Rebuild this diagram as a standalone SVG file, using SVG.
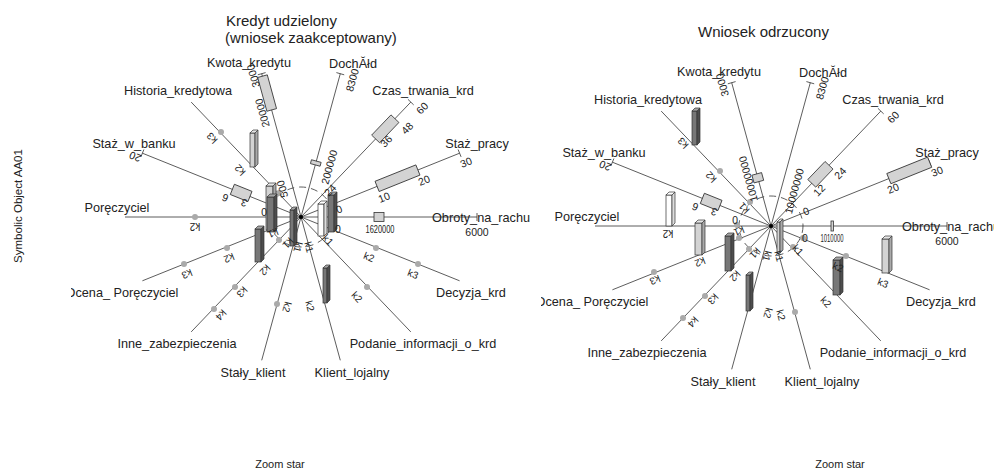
<svg xmlns="http://www.w3.org/2000/svg" xmlns:xlink="http://www.w3.org/1999/xlink" width="994" height="472" viewBox="0 0 994 472">
<style>
text{font-family:"Liberation Sans",Arial,sans-serif;fill:#222}
.lab{font-size:12.7px;text-anchor:middle}
.ttl{font-size:15px}
.num{font-size:10.5px;text-anchor:middle;dominant-baseline:central}
.k{font-size:10px;text-anchor:middle;dominant-baseline:central}
.ax{stroke:#333;stroke-width:0.8;fill:none}
.dash{stroke:#333;stroke-width:0.8;fill:none;stroke-dasharray:7 5}
.iv{fill:#d3d3d3;stroke:#333;stroke-width:0.8}
.dot{fill:#aaa}
.bar rect,.bar polygon{stroke:#333;stroke-width:0.7}
.dk rect{fill:#777}.dk .s{fill:#4d4d4d}.dk .t{fill:#a5a5a5}
.lt rect{fill:#d3d3d3}.lt .s{fill:#aaa}.lt .t{fill:#e6e6e6}
.wh rect{fill:#fff}.wh .s{fill:#ddd}.wh .t{fill:#fff}
</style>
<defs>
<clipPath id="cl"><rect x="71" y="0" width="459" height="472"/></clipPath>
<clipPath id="cr"><rect x="541" y="0" width="453" height="472"/></clipPath>
<g id="spokes">
<path class="ax" d="M0,0L176,0M0,0L158.6,-63.8M0,0L109.8,-114.9M0,0L39.3,-143.3M0,0L-39.3,-143.3M0,0L-109.8,-114.9M0,0L-158.6,-63.8M0,0L-176,0M0,0L-158.6,63.8M0,0L-109.8,114.9M0,0L-39.3,143.3M0,0L39.3,143.3M0,0L109.8,114.9M0,0L158.6,63.8"/>
<path class="ax" d="M176,-4L176,4M160.1,-60.1L157.1,-67.5M112.7,-112.1L106.9,-117.7M43.2,-142.2L35.4,-144.4M-35.4,-144.4L-43.2,-142.2M-157.1,-67.5L-160.1,-60.1"/>
<ellipse class="dash" cx="0" cy="0" rx="32" ry="30"/>
<circle cx="0" cy="0" r="2" fill="#000"/>
</g>
</defs>

<text x="0" y="0" transform="translate(22,206) rotate(-90)" style="font-size:11.5px;text-anchor:middle">Symbolic Object AA01</text>
<text x="280" y="468" style="font-size:11px;text-anchor:middle">Zoom star</text>
<text x="840" y="468" style="font-size:11px;text-anchor:middle">Zoom star</text>

<g id="star-left" clip-path="url(#cl)">
<text class="ttl" x="226" y="26">Kredyt udzielony</text>
<text class="ttl" x="225" y="43">(wniosek zaakceptowany)</text>
<use xlink:href="#spokes" href="#spokes" transform="translate(301,217)"/>
<g transform="translate(301,217)">
<rect class="iv" x="73" y="-4.5" width="10" height="9"/>
<rect class="iv" transform="rotate(-21.9)" x="82" y="-5.5" width="44" height="11"/>
<rect class="iv" transform="rotate(-46.3)" x="108" y="-5.5" width="28" height="11"/>
<rect class="iv" transform="rotate(-74.7)" x="54" y="-5" width="4" height="10"/>
<rect class="iv" transform="rotate(-105.3)" x="111" y="-5" width="35" height="10"/>
<rect class="iv" transform="rotate(-158.1)" x="55" y="-5.5" width="19" height="11"/>
</g>
<g class="dots">
<circle class="dot" cx="221" cy="132" r="3"/><circle class="dot" cx="279" cy="193" r="3"/>
<circle class="dot" cx="195" cy="217" r="3"/><circle class="dot" cx="227" cy="248" r="3"/>
<circle class="dot" cx="184" cy="264" r="3"/><circle class="dot" cx="279" cy="240" r="3"/>
<circle class="dot" cx="235" cy="287" r="3"/><circle class="dot" cx="214" cy="309" r="3"/>
<circle class="dot" cx="277" cy="304" r="3"/><circle class="dot" cx="376" cy="248" r="3"/>
<circle class="dot" cx="418" cy="264" r="3"/><circle class="dot" cx="367" cy="287" r="3"/>
</g>
<g class="bar lt"><rect x="250" y="133" width="5" height="34"/><polygon class="s" points="255,133 258,130 258,164 255,167"/><polygon class="t" points="250,133 253,130 258,130 255,133"/></g>
<g class="bar lt"><rect x="266" y="186" width="7" height="44"/><polygon class="s" points="273,186 276,183 276,227 273,230"/><polygon class="t" points="266,186 269,183 276,183 273,186"/></g>
<g class="bar dk"><rect x="267" y="197" width="7" height="35"/><polygon class="s" points="274,197 277,194 277,229 274,232"/><polygon class="t" points="267,197 270,194 277,194 274,197"/></g>
<g class="bar dk"><rect x="255" y="229" width="6" height="33"/><polygon class="s" points="261,229 264,226 264,259 261,262"/><polygon class="t" points="255,229 258,226 264,226 261,229"/></g>
<g class="bar dk"><rect x="290" y="210" width="4" height="36"/><polygon class="s" points="294,210 297,207 297,243 294,246"/><polygon class="t" points="290,210 293,207 297,207 294,210"/></g>
<g class="bar wh"><rect x="318" y="204" width="6" height="32"/><polygon class="s" points="324,204 327,201 327,233 324,236"/><polygon class="t" points="318,204 321,201 327,201 324,204"/></g>
<g class="bar dk"><rect x="328" y="195" width="6" height="37"/><polygon class="s" points="334,195 337,192 337,229 334,232"/><polygon class="t" points="328,195 331,192 337,192 334,195"/></g>
<g class="bar dk"><rect x="323" y="268" width="4" height="35"/><polygon class="s" points="327,268 330,265 330,300 327,303"/><polygon class="t" points="323,268 326,265 330,265 327,268"/></g>

<g class="nums">
<text class="num" transform="translate(253,76) rotate(-105.3)">3000</text>
<text class="num" transform="translate(262,113) rotate(-105.3)">20000</text>
<text class="num" transform="translate(282,189) rotate(-105.3)">500</text>
<text class="num" transform="translate(352,80) rotate(-74.7)">8300</text>
<text class="num" transform="translate(329,167) rotate(-74.7)">200000</text>
<text class="num" transform="translate(330,190) rotate(-46.3)">24</text>
<text class="num" transform="translate(386,141) rotate(-46.3)">36</text>
<text class="num" transform="translate(407,128) rotate(-46.3)">48</text>
<text class="num" transform="translate(422,108) rotate(-46.3)">60</text>
<text class="num" transform="translate(384,197) rotate(-21.9)">10</text>
<text class="num" transform="translate(424,180) rotate(-21.9)">20</text>
<text class="num" transform="translate(466,162) rotate(-21.9)">30</text>
<text class="num" transform="translate(339,209) rotate(-21.9)">0</text>
<text class="num" x="338" y="229">0</text>
<text class="num" x="380" y="229" textLength="29" lengthAdjust="spacingAndGlyphs">1620000</text>
<text class="num" x="477" y="232">6000</text>
<text class="num" transform="translate(135,157) rotate(-158.1)">20</text>
<text class="num" transform="translate(225,198) rotate(-158.1)">6</text>
<text class="num" transform="translate(244,203) rotate(-158.1)">3</text>
<text class="num" transform="translate(264,212) rotate(180)">0</text>
</g>
<g class="ks">
<text class="k" transform="translate(212,138) rotate(-133.7)">k3</text>
<text class="k" transform="translate(240,170) rotate(-133.7)">k2</text>
<text class="k" transform="translate(195,226) rotate(180)">k2</text>
<text class="k" transform="translate(229,258) rotate(158.1)">k2</text>
<text class="k" transform="translate(187,274) rotate(158.1)">k3</text>
<text class="k" transform="translate(273,233) rotate(158.1)">k1</text>
<text class="k" transform="translate(265,270) rotate(133.7)">k2</text>
<text class="k" transform="translate(242,292) rotate(133.7)">k3</text>
<text class="k" transform="translate(221,315) rotate(133.7)">k4</text>
<text class="k" transform="translate(288,243) rotate(133.7)">k1</text>
<text class="k" transform="translate(287,307) rotate(105.3)">k2</text>
<text class="k" transform="translate(298,247) rotate(105.3)">k1</text>
<text class="k" transform="translate(310,306) rotate(74.7)">k2</text>
<text class="k" transform="translate(309,247) rotate(74.7)">k1</text>
<text class="k" transform="translate(357,297) rotate(46.3)">k2</text>
<text class="k" transform="translate(328,240) rotate(46.3)">k1</text>
<text class="k" transform="translate(369,257) rotate(21.9)">k2</text>
<text class="k" transform="translate(413,274) rotate(21.9)">k3</text>
</g>
<g class="labels">
<text class="lab" x="249" y="67">Kwota_kredytu</text>
<text class="lab" x="353" y="68">DochĂłd</text>
<text class="lab" x="423" y="95">Czas_trwania_krd</text>
<text class="lab" x="477" y="148">Staż_pracy</text>
<text class="lab" x="432" y="222" style="text-anchor:start">Obroty_na_rachunku</text>
<text class="lab" x="471" y="297">Decyzja_krd</text>
<text class="lab" x="423" y="348">Podanie_informacji_o_krd</text>
<text class="lab" x="352" y="377">Klient_lojalny</text>
<text class="lab" x="253" y="377">Stały_klient</text>
<text class="lab" x="177" y="348">Inne_zabezpieczenia</text>
<text class="lab" x="122" y="297">Ocena_ Poręczyciel</text>
<text class="lab" x="117" y="212">Poręczyciel</text>
<text class="lab" x="134" y="148">Staż_w_banku</text>
<text class="lab" x="178" y="95">Historia_kredytowa</text>
</g>
</g>

<g id="star-right" clip-path="url(#cr)">
<text class="ttl" x="698" y="37">Wniosek odrzucony</text>
<use xlink:href="#spokes" href="#spokes" transform="translate(771,226)"/>
<g transform="translate(771,226)">
<rect class="iv" x="60" y="-5" width="2.5" height="10"/>
<rect class="iv" transform="rotate(-21.9)" x="127" y="-5.5" width="44" height="11"/>
<rect class="iv" transform="rotate(-46.3)" x="59" y="-5.5" width="25" height="11"/>
<rect class="iv" transform="rotate(-105.3)" x="46" y="-5" width="8" height="10"/>
<rect class="iv" transform="rotate(-158.1)" x="55" y="-5.5" width="19" height="11"/>
</g>
<g class="dots">
<circle class="dot" cx="720" cy="171" r="3"/><circle class="dot" cx="750" cy="202" r="3"/>
<circle class="dot" cx="737" cy="225" r="3"/><circle class="dot" cx="739" cy="238" r="3"/>
<circle class="dot" cx="654" cy="272" r="3"/><circle class="dot" cx="749" cy="249" r="3"/>
<circle class="dot" cx="705" cy="296" r="3"/><circle class="dot" cx="683" cy="318" r="3"/>
<circle class="dot" cx="846" cy="256" r="3"/><circle class="dot" cx="803" cy="238" r="3"/>
<circle class="dot" cx="793" cy="247" r="3"/><circle class="dot" cx="795" cy="312" r="3"/>
</g>
<g class="bar dk"><rect x="692" y="111" width="5" height="34"/><polygon class="s" points="697,111 700,108 700,142 697,145"/><polygon class="t" points="692,111 695,108 700,108 697,111"/></g>
<g class="bar wh"><rect x="666" y="195" width="6" height="31"/><polygon class="s" points="672,195 675,192 675,223 672,226"/><polygon class="t" points="666,195 669,192 675,192 672,195"/></g>
<g class="bar lt"><rect x="695" y="223" width="7" height="32"/><polygon class="s" points="702,223 705,220 705,252 702,255"/><polygon class="t" points="695,223 698,220 705,220 702,223"/></g>
<g class="bar dk"><rect x="725" y="236" width="6" height="35"/><polygon class="s" points="731,236 734,233 734,268 731,271"/><polygon class="t" points="725,236 728,233 734,233 731,236"/></g>
<g class="bar dk"><rect x="746" y="275" width="4" height="36"/><polygon class="s" points="750,275 753,272 753,308 750,311"/><polygon class="t" points="746,275 749,272 753,272 750,275"/></g>
<g class="bar lt"><rect x="882" y="239" width="7" height="34"/><polygon class="s" points="889,239 892,236 892,270 889,273"/><polygon class="t" points="882,239 885,236 892,236 889,239"/></g>
<g class="bar dk"><rect x="833" y="260" width="7" height="35"/><polygon class="s" points="840,260 843,257 843,292 840,295"/><polygon class="t" points="833,260 836,257 843,257 840,260"/></g>
<g class="bar lt"><rect x="777" y="222" width="3" height="31"/><polygon class="s" points="780,222 783,219 783,250 780,253"/><polygon class="t" points="777,222 780,219 783,219 780,222"/></g>

<g class="nums">
<text class="num" transform="translate(722,85) rotate(-105.3)">3000</text>
<text class="num" transform="translate(748,179) rotate(-105.3)">10000000</text>
<text class="num" transform="translate(822,88) rotate(-74.7)">8300</text>
<text class="num" transform="translate(794,191) rotate(-74.7)">10000000</text>
<text class="num" transform="translate(819,190) rotate(-46.3)">12</text>
<text class="num" transform="translate(840,173) rotate(-46.3)">24</text>
<text class="num" transform="translate(893,117) rotate(-46.3)">60</text>
<text class="num" transform="translate(893,188) rotate(-21.9)">20</text>
<text class="num" transform="translate(937,171) rotate(-21.9)">30</text>
<text class="num" transform="translate(806,211) rotate(-21.9)">0</text>
<text class="num" x="805" y="238">0</text>
<text class="num" x="832" y="238" textLength="23" lengthAdjust="spacingAndGlyphs">1010000</text>
<text class="num" x="947" y="241">6000</text>
<text class="num" transform="translate(605,166) rotate(-158.1)">20</text>
<text class="num" transform="translate(695,207) rotate(-158.1)">6</text>
<text class="num" transform="translate(714,212) rotate(-158.1)">3</text>
<text class="num" transform="translate(735,220) rotate(180)">0</text>
</g>
<g class="ks">
<text class="k" transform="translate(683,143) rotate(-133.7)">k3</text>
<text class="k" transform="translate(711,177) rotate(-133.7)">k2</text>
<text class="k" transform="translate(744,208) rotate(-133.7)">k1</text>
<text class="k" transform="translate(668,233) rotate(180)">k2</text>
<text class="k" transform="translate(700,262) rotate(158.1)">k2</text>
<text class="k" transform="translate(655,280) rotate(158.1)">k3</text>
<text class="k" transform="translate(739,231) rotate(158.1)">k1</text>
<text class="k" transform="translate(735,276) rotate(133.7)">k2</text>
<text class="k" transform="translate(713,299) rotate(133.7)">k3</text>
<text class="k" transform="translate(693,322) rotate(133.7)">k4</text>
<text class="k" transform="translate(755,253) rotate(133.7)">k1</text>
<text class="k" transform="translate(768,313) rotate(105.3)">k2</text>
<text class="k" transform="translate(767,256) rotate(105.3)">k1</text>
<text class="k" transform="translate(781,315) rotate(74.7)">k2</text>
<text class="k" transform="translate(779,256) rotate(74.7)">k1</text>
<text class="k" transform="translate(826,302) rotate(46.3)">k2</text>
<text class="k" transform="translate(798,250) rotate(46.3)">k1</text>
<text class="k" transform="translate(838,267) rotate(21.9)">k2</text>
<text class="k" transform="translate(883,283) rotate(21.9)">k3</text>
</g>
<g class="labels">
<text class="lab" x="719" y="76">Kwota_kredytu</text>
<text class="lab" x="823" y="77">DochĂłd</text>
<text class="lab" x="893" y="104">Czas_trwania_krd</text>
<text class="lab" x="947" y="157">Staż_pracy</text>
<text class="lab" x="902" y="231" style="text-anchor:start">Obroty_na_rachunku</text>
<text class="lab" x="941" y="306">Decyzja_krd</text>
<text class="lab" x="893" y="357">Podanie_informacji_o_krd</text>
<text class="lab" x="822" y="386">Klient_lojalny</text>
<text class="lab" x="723" y="386">Stały_klient</text>
<text class="lab" x="647" y="357">Inne_zabezpieczenia</text>
<text class="lab" x="592" y="306">Ocena_ Poręczyciel</text>
<text class="lab" x="587" y="221">Poręczyciel</text>
<text class="lab" x="604" y="157">Staż_w_banku</text>
<text class="lab" x="648" y="104">Historia_kredytowa</text>
</g>
</g>
</svg>
